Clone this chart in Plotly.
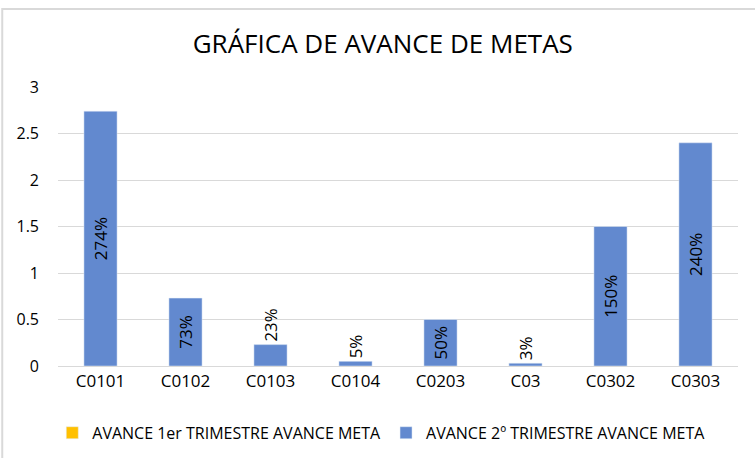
import plotly.graph_objects as go

categories = ["C0101", "C0102", "C0103", "C0104", "C0203", "C03", "C0302", "C0303"]
avance_1er = [None] * 8
avance_2o = [2.74, 0.73, 0.23, 0.05, 0.50, 0.03, 1.50, 2.40]
labels_2o = ["274%", "73%", "23%", "5%", "50%", "3%", "150%", "240%"]
y_ticks = [0, 0.5, 1, 1.5, 2, 2.5, 3]
y_tick_text = ["0", "0.5", "1", "1.5", "2", "2.5", "3"]

FONT = "Open Sans, Liberation Sans, sans-serif"

fig = go.Figure()
fig.add_trace(go.Bar(
    x=categories, y=avance_1er, name="AVANCE 1er TRIMESTRE AVANCE META",
    marker_color="#FFC000", width=0.39,
))
fig.add_trace(go.Bar(
    x=categories, y=avance_2o, name="AVANCE 2º TRIMESTRE AVANCE META",
    marker_color="#6289CF", width=0.39,
    text=labels_2o, textposition="auto", textangle=-90,
    insidetextanchor="middle",
    insidetextfont=dict(color="#000000", size=17, family=FONT),
    outsidetextfont=dict(color="#000000", size=17, family=FONT),
    cliponaxis=False,
))

fig.update_layout(
    width=755, height=458,
    margin=dict(l=58, r=17, t=87, b=92, autoexpand=False),
    paper_bgcolor="white", plot_bgcolor="white",
    barmode="overlay",
    title=dict(text="GRÁFICA DE AVANCE DE METAS", x=0.507, xanchor="center",
               y=0.905, yanchor="middle",
               font=dict(size=26, color="#000000", family=FONT)),
    font=dict(family=FONT, size=16, color="#000000"),
    showlegend=True,
    legend=dict(orientation="h", xref="container", x=0.505, xanchor="center",
                yref="container", y=0.055, yanchor="middle",
                font=dict(size=16, color="#000000", family=FONT),
                itemwidth=30, traceorder="normal", tracegroupgap=0),
    shapes=[dict(type="rect", xref="paper", yref="paper",
                 x0=-0.082, x1=1.05, y0=-0.5, y1=1.28,
                 line=dict(color="#D9D9D9", width=2), fillcolor="rgba(0,0,0,0)",
                 layer="below")],
)
fig.update_xaxes(showgrid=False, showline=True, linecolor="#D9D9D9", linewidth=1,
                 ticks="", tickfont=dict(size=17, color="#000000"))
fig.update_yaxes(range=[0, 3], tickvals=y_ticks, ticktext=y_tick_text,
                 showgrid=True, gridcolor="#D9D9D9", gridwidth=1,
                 zeroline=False, showline=False, ticks="",
                 tickfont=dict(size=16, color="#000000"), ticklabelstandoff=18)

fig.write_html("out.html", config={"displayModeBar": False},
               post_script="document.body.style.margin='0';")
